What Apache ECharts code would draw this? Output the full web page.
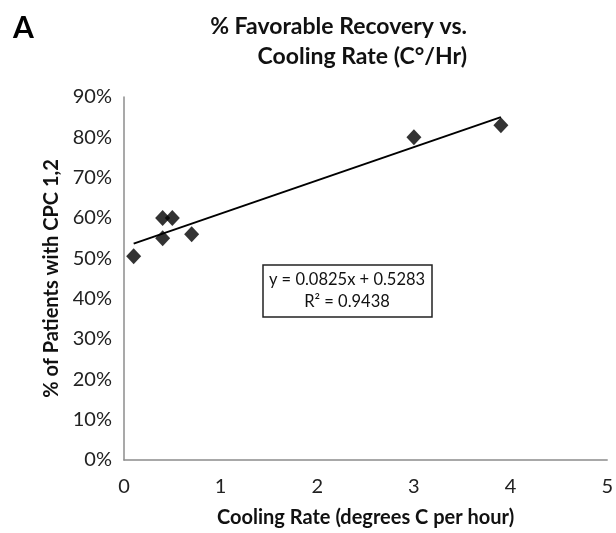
<!DOCTYPE html>
<html lang="en">
<head>
<meta charset="UTF-8">
<title>Favorable Recovery vs Cooling Rate</title>
<script src="https://cdn.jsdelivr.net/npm/echarts@6.0.0/dist/echarts.min.js"></script>
<style>
  html, body { margin: 0; padding: 0; background: #fff; }
  #chart { width: 616px; height: 533px; }
</style>
</head>
<body>
<div id="chart"></div>
<script>
// cooling rate (C/hr) and share of patients with CPC 1,2
var coolingRate = [0.1, 0.4, 0.5, 0.4, 0.7, 3.0, 3.9];
var favorable = [0.505, 0.60, 0.60, 0.55, 0.56, 0.80, 0.83];

// linear trendline as printed on the figure
var slope = 0.0825;
var intercept = 0.5283;
var trendX = [0.1, 3.9];

var xTicks = [0, 1, 2, 3, 4, 5];
var yTicks = [0, 0.1, 0.2, 0.3, 0.4, 0.5, 0.6, 0.7, 0.8, 0.9];

var font = 'Lato, "Open Sans", sans-serif';

var pointData = [];
for (var i = 0; i < coolingRate.length; i++) {
    pointData.push([coolingRate[i], favorable[i]]);
}
var trendData = [];
for (var j = 0; j < trendX.length; j++) {
    trendData.push([trendX[j], slope * trendX[j] + intercept]);
}

var myChart = echarts.init(document.getElementById('chart'));

var option = {
    animation: false,
    backgroundColor: '#fff',
    grid: { left: 124, right: 7, top: 97, bottom: 72 },
    xAxis: {
        type: 'value',
        min: xTicks[0], max: xTicks[xTicks.length - 1], interval: 1,
        name: 'Cooling Rate (degrees C per hour)',
        nameLocation: 'middle',
        nameGap: 48,
        nameTextStyle: { fontFamily: font, fontWeight: 'bold', fontSize: 20, color: '#111' },
        axisLine: { lineStyle: { color: '#8c8c8c', width: 1.5 } },
        axisTick: { show: false },
        splitLine: { show: false },
        axisLabel: { fontFamily: font, fontSize: 20, color: '#222', margin: 17 }
    },
    yAxis: {
        type: 'value',
        min: yTicks[0], max: yTicks[yTicks.length - 1], interval: 0.1,
        name: '% of Patients with CPC 1,2',
        nameLocation: 'middle',
        nameGap: 61,
        nameTextStyle: { fontFamily: font, fontWeight: 'bold', fontSize: 20, color: '#111' },
        axisLine: { show: true, lineStyle: { color: '#8c8c8c', width: 1.5 } },
        axisTick: { show: false },
        splitLine: { show: false },
        axisLabel: {
            fontFamily: font, fontSize: 20, color: '#222', margin: 12,
            formatter: function (v) { return Math.round(v * 100) + '%'; }
        }
    },
    series: [
        {
            type: 'line',
            data: trendData,
            symbol: 'none',
            lineStyle: { color: '#000', width: 2 },
            z: 2
        },
        {
            type: 'scatter',
            data: pointData,
            symbol: 'diamond',
            symbolSize: [15, 16],
            itemStyle: { color: '#000' },
            z: 3
        }
    ],
    graphic: [
        {
            type: 'text',
            x: 13, y: 28,
            style: {
                text: 'A',
                font: 'bold 30px ' + font,
                fill: '#000',
                verticalAlign: 'middle'
            }
        },
        {
            type: 'text',
            x: 467, y: 27,
            style: {
                text: '% Favorable Recovery vs.',
                font: 'bold 23px ' + font,
                fill: '#111',
                align: 'right',
                verticalAlign: 'middle'
            }
        },
        {
            type: 'text',
            x: 467, y: 57,
            style: {
                text: 'Cooling Rate (C°/Hr)',
                font: 'bold 23px ' + font,
                fill: '#111',
                align: 'right',
                verticalAlign: 'middle'
            }
        },
        {
            type: 'rect',
            shape: { x: 263, y: 265, width: 169, height: 52 },
            style: { fill: '#fff', stroke: '#222', lineWidth: 1.5 }
        },
        {
            type: 'text',
            x: 347, y: 280,
            style: {
                text: 'y = 0.0825x + 0.5283',
                font: '16.5px ' + font,
                fill: '#111',
                align: 'center',
                verticalAlign: 'middle'
            }
        },
        {
            type: 'text',
            x: 347, y: 302,
            style: {
                text: 'R² = 0.9438',
                font: '16.5px ' + font,
                fill: '#111',
                align: 'center',
                verticalAlign: 'middle'
            }
        }
    ]
};

myChart.setOption(option);
</script>
</body>
</html>
